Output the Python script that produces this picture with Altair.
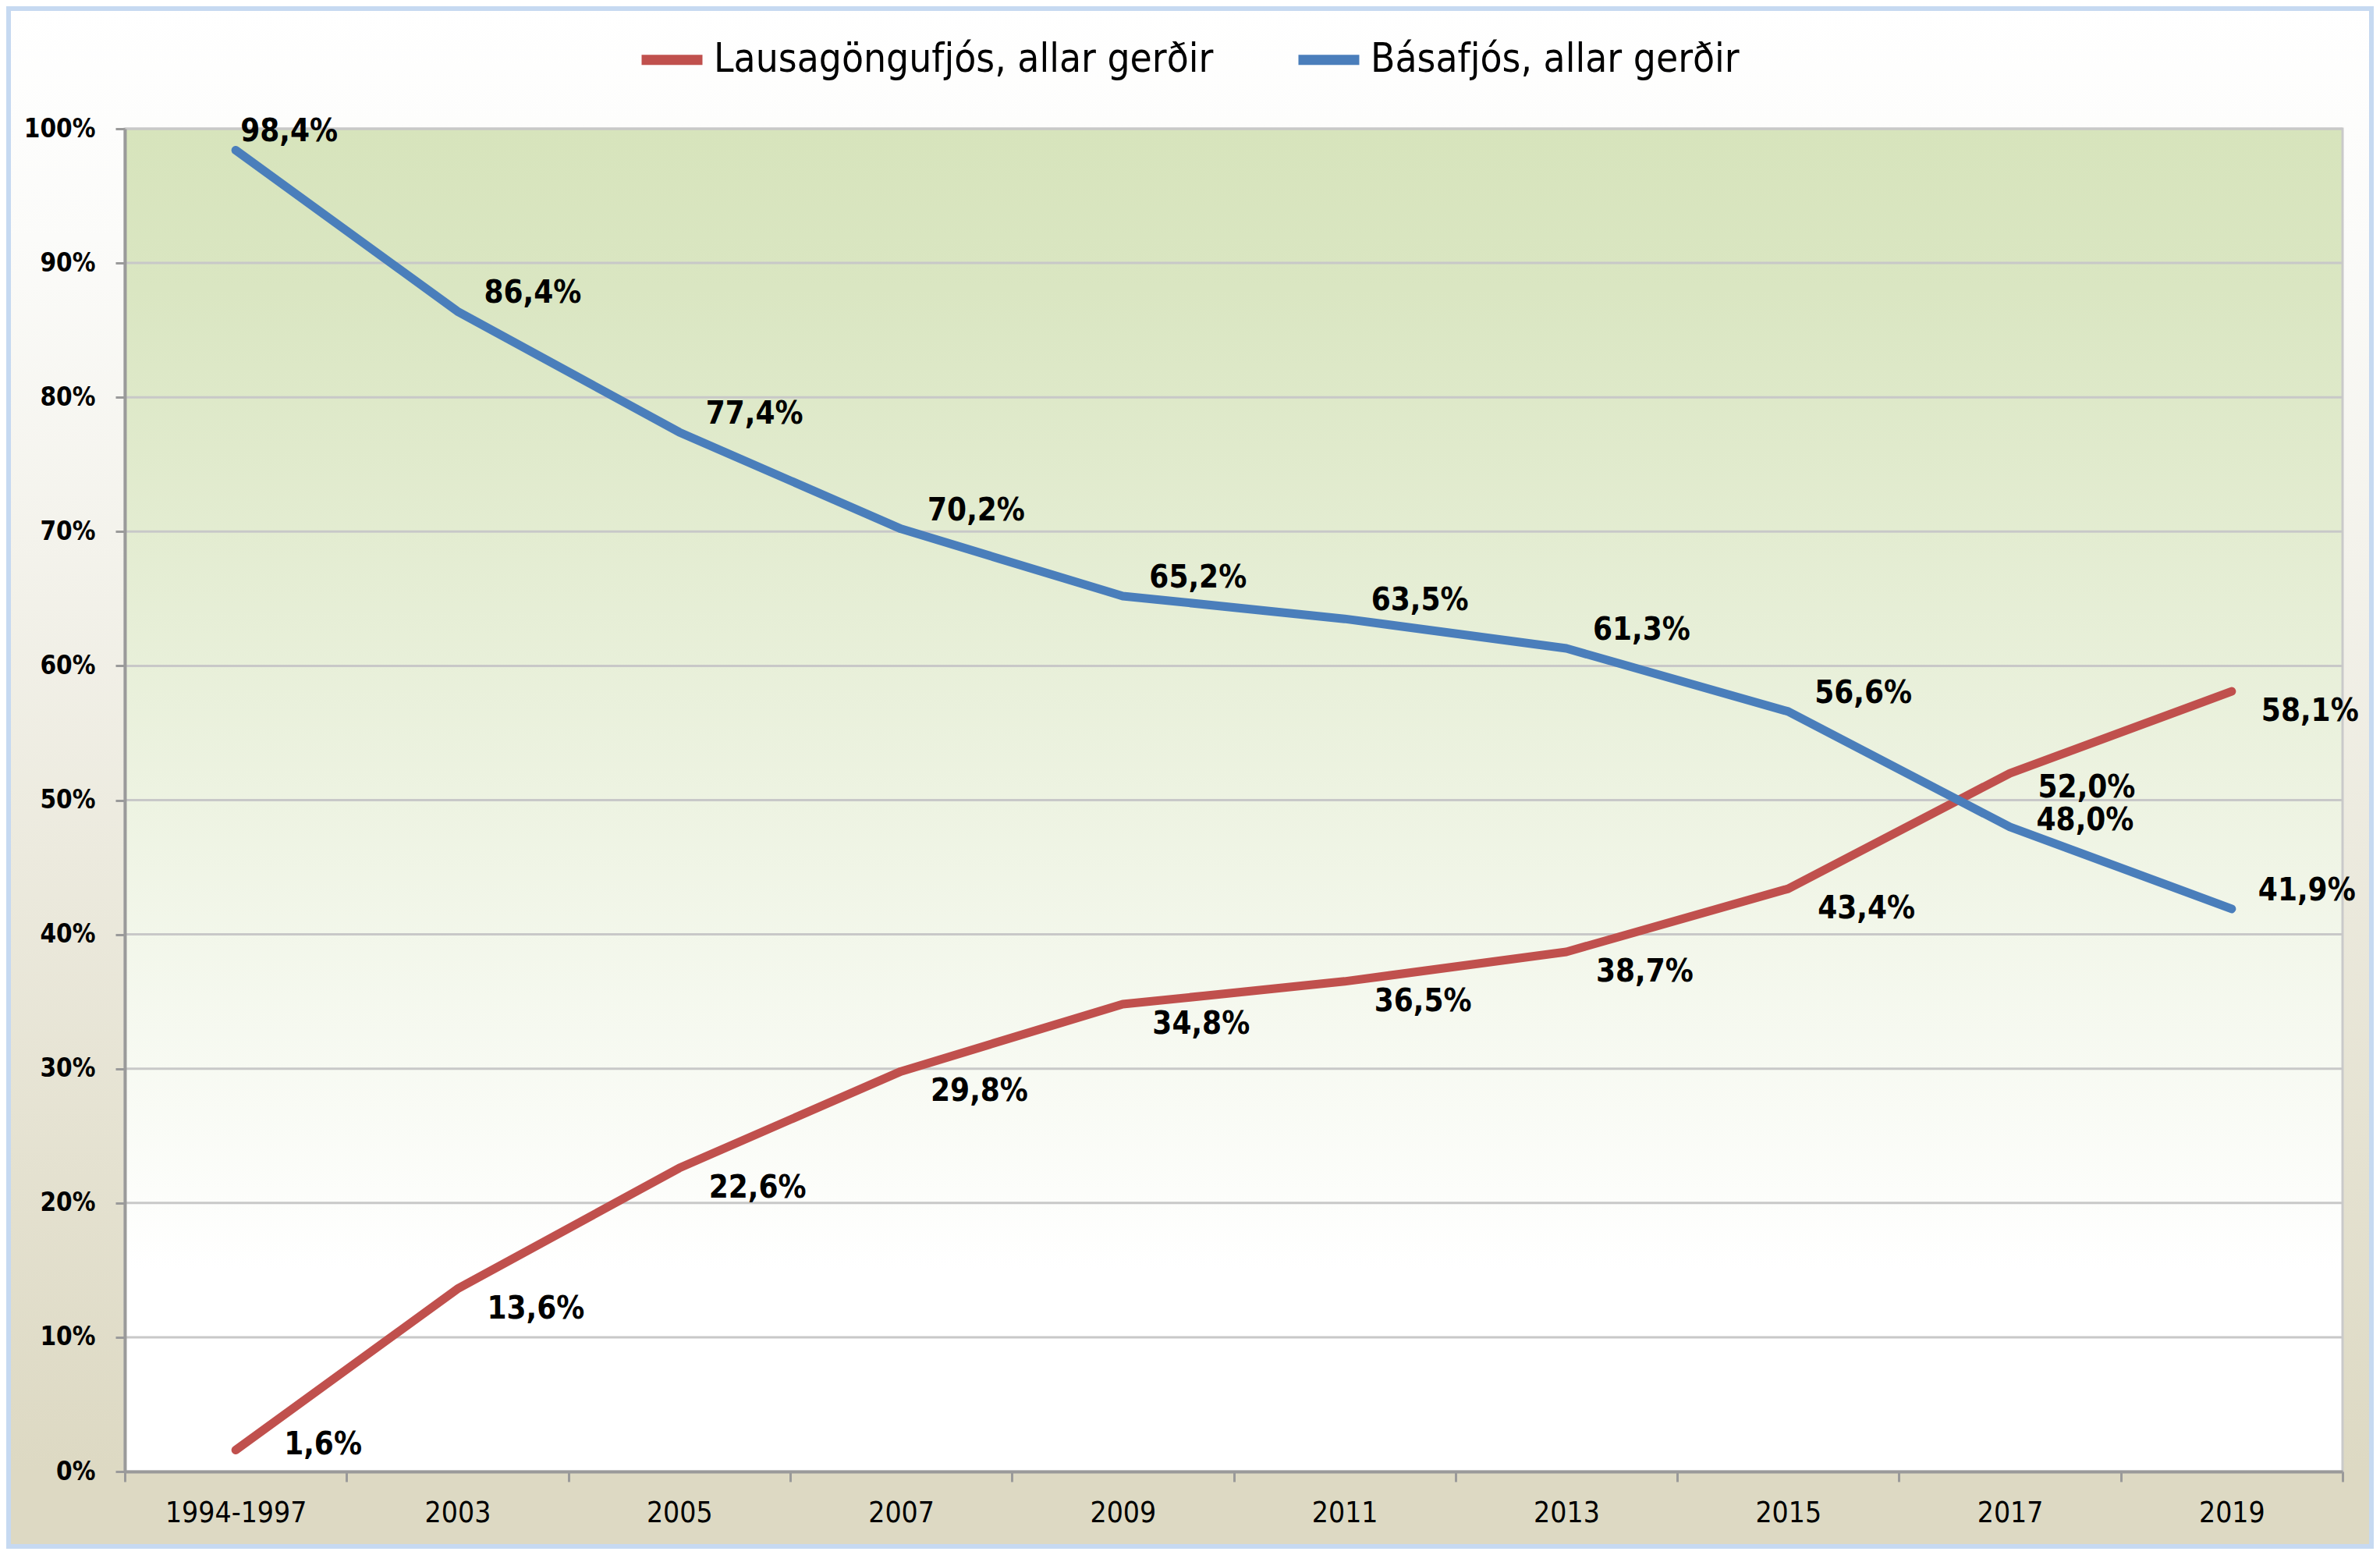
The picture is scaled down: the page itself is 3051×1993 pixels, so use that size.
import altair as alt
import pandas as pd

categories = ["1994-1997", "2003", "2005", "2007", "2009", "2011", "2013", "2015", "2017", "2019"]
lausa = [1.6, 13.6, 22.6, 29.8, 34.8, 36.5, 38.7, 43.4, 52.0, 58.1]
basa = [98.4, 86.4, 77.4, 70.2, 65.2, 63.5, 61.3, 56.6, 48.0, 41.9]
series_names = ["Lausagöngufjós, allar gerðir", "Básafjós, allar gerðir"]
series_colors = ["#C0504D", "#4A7EBB"]
y_ticks = [0, 0.1, 0.2, 0.3, 0.4, 0.5, 0.6, 0.7, 0.8, 0.9, 1.0]
grid_values = [0.1, 0.2, 0.3, 0.4, 0.5, 0.6, 0.7, 0.8, 0.9, 1.0]

rows = []
for name, vals, other in zip(series_names, [lausa, basa], [basa, lausa]):
    for c, v, o in zip(categories, vals, other):
        v_f, o_f = v / 100.0, o / 100.0
        if v_f < 0.035 or v_f > 0.97:
            place = "edge"          # label pushed inside the plot frame
        elif abs(v_f - o_f) < 0.06:
            place = "crowded"       # two labels close together
        else:
            place = "normal"
        rows.append({"cat": c, "series": name, "val": v_f, "place": place,
                     "label": f"{v:.1f}".replace(".", ",") + "%"})
df = pd.DataFrame(rows)

W, H = 2843, 1721
PL, PT, PR, PB = 152, 157, 40, 99
FONT = "DejaVu Sans Condensed"

xscale = alt.Scale(type="band", domain=categories, paddingInner=0, paddingOuter=0)
yscale = alt.Scale(domain=[0, 1], nice=False)

x_axis = alt.Axis(title=None, labelAngle=0, tickBand="extent", tickSize=13,
                  tickColor="#9A9A9A", tickWidth=3, domainColor="#9A9A9A",
                  domainWidth=4, labelFont=FONT, labelFontSize=37,
                  labelFontWeight="normal", labelColor="#000000", labelLimit=600,
                  labelPadding=22, grid=False, zindex=1)
y_axis = alt.Axis(title=None, format=".0%", values=y_ticks,
                  tickSize=12, tickColor="#9A9A9A", tickWidth=3,
                  domainColor="#9A9A9A", domainWidth=4, labelFont=FONT,
                  labelFontSize=33, labelFontWeight="bold", labelColor="#000000",
                  labelPadding=26, labelLimit=400, grid=False, zindex=1)

X = alt.X("cat:N", scale=xscale, sort=categories, axis=x_axis)
Y = alt.Y("val:Q", scale=yscale, axis=y_axis)

outer_bg = alt.Chart(alt.Data(values=[{}])).mark_rect(
    fill=alt.Gradient(gradient="linear", x1=0, x2=0, y1=0, y2=1,
                      stops=[alt.GradientStop(color="#FFFFFF", offset=0),
                             alt.GradientStop(color="#FBFBF9", offset=0.15),
                             alt.GradientStop(color="#DDD9C3", offset=0.95),
                             alt.GradientStop(color="#DDD9C3", offset=1)]),
    stroke="#C6D9F1", strokeWidth=6
).encode(x=alt.value(-PL + 3), x2=alt.value(W + PR - 3),
         y=alt.value(-PT + 3), y2=alt.value(H + PB - 3))

plot_bg = alt.Chart(alt.Data(values=[{}])).mark_rect(
    fill=alt.Gradient(gradient="linear", x1=0, x2=0, y1=0, y2=1,
                      stops=[alt.GradientStop(color="#D7E4BC", offset=0),
                             alt.GradientStop(color="#DAE6C2", offset=0.12),
                             alt.GradientStop(color="#FFFFFF", offset=0.85),
                             alt.GradientStop(color="#FFFFFF", offset=1)]),
    stroke="#CACACA", strokeWidth=3
).encode(x=alt.value(0), x2=alt.value(W), y=alt.value(0), y2=alt.value(H))

grid = alt.Chart(pd.DataFrame({"val": grid_values})).mark_rule(
    color="#C8C8C8", strokeWidth=3
).encode(y=Y)

base = alt.Chart(df)

lines = base.mark_line(strokeWidth=11, strokeCap="round", strokeJoin="round").encode(
    x=X, y=Y,
    color=alt.Color("series:N", scale=alt.Scale(domain=series_names, range=series_colors),
                    legend=alt.Legend(title=None, orient="none", direction="horizontal",
                                      legendX=656, legendY=-134, symbolType="stroke",
                                      symbolSize=6084, symbolStrokeWidth=13,
                                      labelFont=FONT, labelFontSize=51, labelColor="#000000",
                                      labelOffset=8, columnPadding=82, labelLimit=2000)),
    order=alt.Order("cat:N")
)


def labels(series, place, dx, dy):
    return base.transform_filter(
        (alt.datum.series == series) & (alt.datum.place == place)
    ).mark_text(
        align="left", baseline="middle", dx=dx, dy=dy, font=FONT, fontSize=40,
        fontWeight="bold", color="#000000"
    ).encode(x=X, y=Y, text="label:N")


red, blue = series_names
text_layers = [
    labels(red, "normal", 38, 26),
    labels(red, "crowded", 36, 19),
    labels(red, "edge", 62, -6),
    labels(blue, "normal", 34, -23),
    labels(blue, "crowded", 34, -8),
    labels(blue, "edge", 6, -24),
]

chart = alt.layer(outer_bg, plot_bg, grid, lines, *text_layers).properties(
    width=W, height=H,
    autosize=alt.AutoSizeParams(type="none"),
    padding={"left": PL, "top": PT, "right": PR, "bottom": PB},
    background="#FFFFFF"
).configure_view(stroke=None)

chart.save("out.html", embed_options={"renderer": "svg", "actions": False})
